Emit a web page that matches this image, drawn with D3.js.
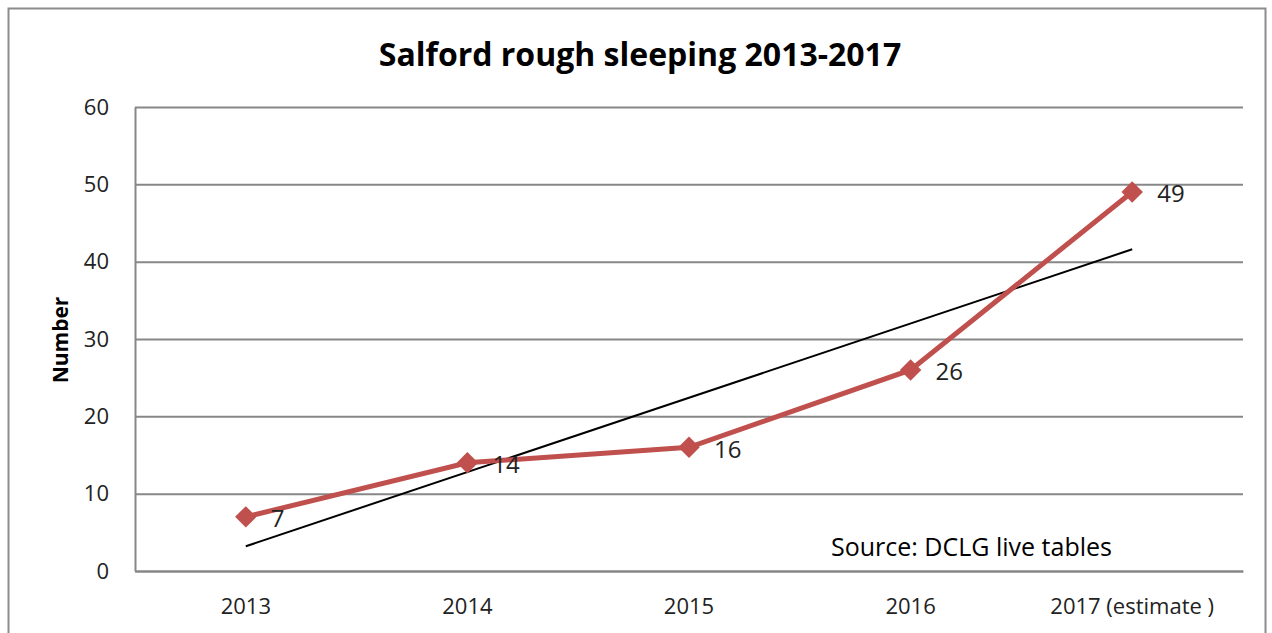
<!DOCTYPE html>
<html>
<head>
<meta charset="utf-8">
<script src="https://cdn.jsdelivr.net/npm/d3@7"></script>
<style>
  body { margin: 0; background: #fff; }
  text { font-family: "Open Sans", "Noto Sans", sans-serif; }
</style>
</head>
<body>
<div id="chart"></div>
<script>
var categories = ["2013", "2014", "2015", "2016", "2017 (estimate )"];
var roughSleepers = [7, 14, 16, 26, 49];
// linear trendline end values
var trendValues = [3.2, 41.6];
var yTicks = [0, 10, 20, 30, 40, 50, 60];

var svgWidth = 1272;
var svgHeight = 633;

var margin = { top: 107, right: 29, bottom: 62, left: 135 };
var width = svgWidth - margin.left - margin.right;
var height = svgHeight - margin.top - margin.bottom;

var svg = d3.select("#chart")
    .append("svg")
    .attr("width", svgWidth)
    .attr("height", svgHeight);

// outer chart border
svg.append("rect")
    .attr("x", 8.5)
    .attr("y", 8.5)
    .attr("width", 1257)
    .attr("height", 640)
    .attr("fill", "none")
    .attr("stroke", "#8c8c8c")
    .attr("stroke-width", 2);

var chartGroup = svg.append("g")
    .attr("transform", `translate(${margin.left}, ${margin.top})`);

var xScale = d3.scaleBand()
    .domain(categories)
    .range([0, width]);

var yScale = d3.scaleLinear()
    .domain([0, 60])
    .range([height, 0]);

var xPos = d => xScale(d) + xScale.bandwidth() / 2;

// gridlines
chartGroup.append("g")
    .call(d3.axisLeft(yScale).tickValues(yTicks).tickSize(-width).tickFormat(""))
    .call(g => g.select(".domain").remove())
    .selectAll("line")
    .attr("stroke", "#878787")
    .attr("stroke-width", 2);

// y axis
var leftAxis = chartGroup.append("g")
    .call(d3.axisLeft(yScale).tickValues(yTicks).tickSize(0).tickPadding(26));
leftAxis.select(".domain").attr("stroke", "#878787").attr("stroke-width", 2);
leftAxis.selectAll("text")
    .attr("font-size", "22px")
    .attr("fill", "#222")
    .style("font-family", "'Open Sans', sans-serif");

// x axis
var bottomAxis = chartGroup.append("g")
    .attr("transform", `translate(0, ${height})`)
    .call(d3.axisBottom(xScale).tickSize(0).tickPadding(27));
bottomAxis.select(".domain").attr("stroke", "#878787").attr("stroke-width", 2);
bottomAxis.selectAll("text")
    .attr("font-size", "22px")
    .attr("fill", "#222")
    .style("font-family", "'Open Sans', sans-serif");

// trendline
chartGroup.append("line")
    .attr("x1", xPos(categories[0]))
    .attr("y1", yScale(trendValues[0]))
    .attr("x2", xPos(categories[categories.length - 1]))
    .attr("y2", yScale(trendValues[1]))
    .attr("stroke", "#000")
    .attr("stroke-width", 2);

// data line
var line = d3.line()
    .x((d, i) => xPos(categories[i]))
    .y(d => yScale(d));

chartGroup.append("path")
    .datum(roughSleepers)
    .attr("d", line)
    .attr("fill", "none")
    .attr("stroke", "#C0504D")
    .attr("stroke-width", 5);

// diamond markers
chartGroup.selectAll(".marker")
    .data(roughSleepers)
    .enter()
    .append("path")
    .attr("class", "marker")
    .attr("d", d3.symbol().type(d3.symbolSquare).size(230))
    .attr("transform", (d, i) => `translate(${xPos(categories[i])}, ${yScale(d)}) rotate(45)`)
    .attr("fill", "#C0504D");

// data labels
chartGroup.selectAll(".label")
    .data(roughSleepers)
    .enter()
    .append("text")
    .attr("class", "label")
    .attr("x", (d, i) => xPos(categories[i]) + 25)
    .attr("y", d => yScale(d) + 2)
    .attr("dy", "0.35em")
    .attr("font-size", "24px")
    .attr("fill", "#222")
    .text(d => d);

// title
svg.append("text")
    .attr("x", 640)
    .attr("y", 66)
    .attr("text-anchor", "middle")
    .attr("font-size", "32px")
    .attr("font-weight", "bold")
    .attr("fill", "#000")
    .text("Salford rough sleeping 2013-2017");

// y axis title
svg.append("text")
    .attr("transform", "translate(68, 340) rotate(-90)")
    .attr("text-anchor", "middle")
    .attr("font-size", "21px")
    .attr("font-weight", "bold")
    .attr("fill", "#000")
    .text("Number");

// source note
svg.append("text")
    .attr("x", 831)
    .attr("y", 556)
    .attr("font-size", "25px")
    .attr("fill", "#000")
    .text("Source: DCLG live tables");
</script>
</body>
</html>
